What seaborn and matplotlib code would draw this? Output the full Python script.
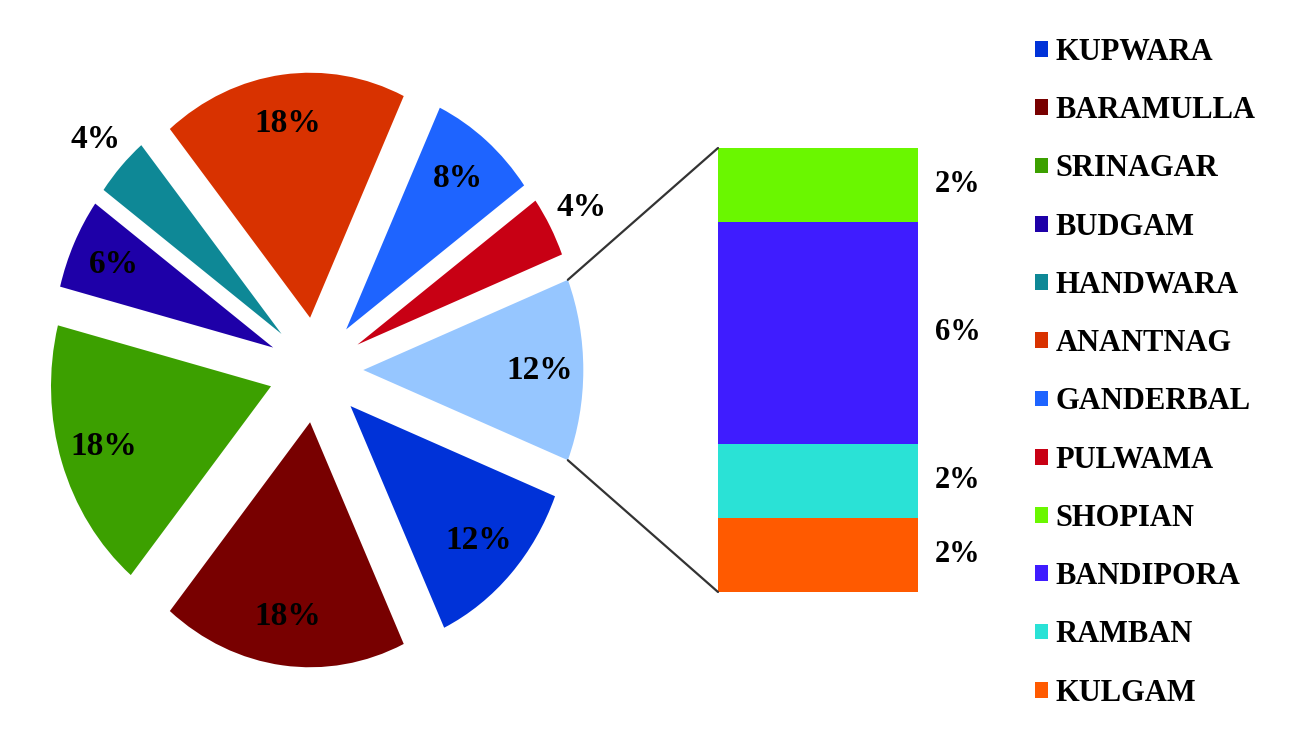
import numpy as np
import pandas as pd
import matplotlib
matplotlib.use("Agg")
import matplotlib.pyplot as plt
import seaborn as sns
from matplotlib.patches import Patch, ConnectionPatch
from matplotlib import transforms

sns.set_theme(style="white")
plt.rcParams['font.family'] = ['Liberation Serif', 'DejaVu Serif']
plt.rcParams['font.weight'] = 'bold'
plt.rcParams['text.color'] = 'black'

# ---- data ----
pie_districts = ["KUPWARA", "BARAMULLA", "SRINAGAR", "BUDGAM", "HANDWARA",
                 "ANANTNAG", "GANDERBAL", "PULWAMA"]
pie_values = [12, 18, 18, 6, 4, 18, 8, 4]
pie_colors = ["#0032D8", "#780000", "#3CA000", "#1E00A8", "#0E8896",
              "#D83200", "#1E64FF", "#C80014"]
other_color = "#96C6FF"

bar_districts = ["SHOPIAN", "BANDIPORA", "RAMBAN", "KULGAM"]   # top to bottom
bar_values = [2, 6, 2, 2]
bar_colors = ["#6AF700", "#3F1CFF", "#2AE2D6", "#FF5A00"]

other_value = sum(bar_values)
all_values = pie_values + [other_value]
all_colors = pie_colors + [other_color]

W, H = 1297, 734
fig = plt.figure(figsize=(W / 100, H / 100), dpi=100)
fig.patch.set_facecolor("white")

# ---- pie (vertically stretched like the reference) ----
cx, cy = 316, H - 370
rx, ry = 220, 245
lim = 1.4
axp = fig.add_axes([(cx - lim * rx) / W, (cy - lim * ry) / H,
                    2 * lim * rx / W, 2 * lim * ry / H])
other_angle = 360 * other_value / sum(all_values)
wedges, _ = axp.pie(all_values, colors=all_colors, explode=[0.215] * len(all_values),
                    startangle=-other_angle / 2, counterclock=False,
                    wedgeprops=dict(linewidth=0))
axp.set_aspect("auto")
axp.set_xlim(-lim, lim)
axp.set_ylim(-lim, lim)
axp.axis("off")

for w, v in zip(wedges, all_values):
    mid = np.deg2rad((w.theta1 + w.theta2) / 2)
    r = 1.16 if v <= 4 else 0.8
    x = w.center[0] + r * np.cos(mid)
    y = w.center[1] + r * np.sin(mid)
    axp.text(x, y, f"{v}%", ha="center", va="center", fontsize=24,
             fontweight="bold", color="black", clip_on=False)

# ---- bar of the "other" slice ----
bx0, bx1, by0, by1 = 718, 918, H - 592, H - 148
axb = fig.add_axes([bx0 / W, by0 / H, (bx1 - bx0) / W, (by1 - by0) / H])
cum = np.cumsum(bar_values[::-1])[::-1]   # cumulative heights from top segment down
bar_df = pd.DataFrame({"pos": ["x"] * len(bar_values), "cum": cum,
                       "name": bar_districts})
for i in range(len(bar_values)):
    sns.barplot(data=bar_df.iloc[[i]], x="pos", y="cum", color=bar_colors[i],
                width=0.8, linewidth=0, saturation=1, ax=axb)
axb.set_xlim(-0.4, 0.4)
axb.set_ylim(0, other_value)
axb.axis("off")
tr = transforms.blended_transform_factory(axb.transAxes, axb.transData)
for i, v in enumerate(bar_values):
    mid = cum[i] - v / 2
    axb.text(1.2, mid, f"{v}%", transform=tr, ha="center", va="center",
             fontsize=22, fontweight="bold", color="black", clip_on=False)

# ---- connector lines ----
ow = wedges[-1]
ends = []
for th in (ow.theta1, ow.theta2):
    t = np.deg2rad(th)
    ends.append((ow.center[0] + ow.r * np.cos(t), ow.center[1] + ow.r * np.sin(t)))
ends.sort(key=lambda p: p[1])
for (px, py), yb in zip(ends, [0, other_value]):
    con = ConnectionPatch(xyA=(px, py), coordsA=axp.transData,
                          xyB=(-0.4, yb), coordsB=axb.transData,
                          color="#333333", linewidth=1.6)
    fig.add_artist(con)

# ---- legend ----
handles = [Patch(facecolor=c, edgecolor="none") for c in pie_colors + bar_colors]
labels = pie_districts + bar_districts
fig.legend(handles, labels, loc="upper left",
           bbox_to_anchor=(1035 / W, 1 - 38 / H), frameon=False,
           prop=dict(weight="bold", size=22), labelcolor="black",
           handlelength=0.42, handleheight=0.42, handletextpad=0.25,
           labelspacing=0.957, borderpad=0, borderaxespad=0)

fig.savefig("out.png", dpi=100, facecolor="white")
